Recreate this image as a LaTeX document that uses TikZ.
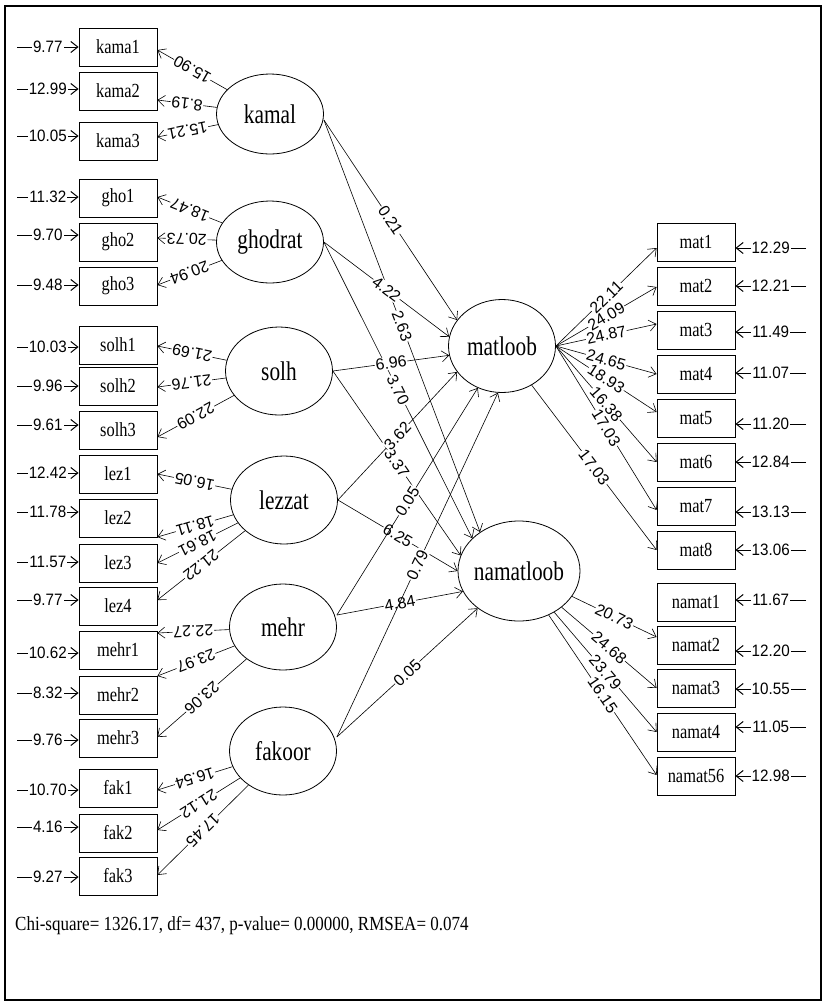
\documentclass[tikz,border=0pt]{standalone}
\usepackage{fontspec}
\setmainfont{Liberation Serif}
\newfontfamily\boxfont[FakeStretch=0.82]{Liberation Serif}
\newfontfamily\latfont[FakeStretch=0.79]{Liberation Serif}
\newfontfamily\numfont{Liberation Sans}
\newfontfamily\errfont[FakeStretch=0.92]{Liberation Sans}
\newfontfamily\chifont[FakeStretch=0.85]{Liberation Serif}
\usetikzlibrary{shapes.geometric,arrows.meta}
\begin{document}
\begin{tikzpicture}[x=1pt,y=-1pt,
  ind/.style={draw, line width=0.8pt, minimum width=78pt, minimum height=38pt, inner sep=0pt, font=\boxfont\fontsize{20}{22}\selectfont},
  lat/.style={draw, ellipse, line width=0.8pt, inner sep=0pt, label={[font=\latfont\fontsize{27}{29}\selectfont]center:#1}},
  conn/.style={line width=0.6pt, -{Straight Barb[length=7pt,width=11pt]}},
  errc/.style={line width=1pt, -{Straight Barb[length=7pt,width=11pt]}},
  lab/.style={fill=white, inner sep=0.8pt, sloped, allow upside down, pos=0.5, font=\numfont\fontsize{16}{16}\selectfont},
  elab/.style={fill=white, inner sep=1pt, midway, font=\errfont\fontsize{16.5}{16.5}\selectfont},
]
\useasboundingbox (0,0) rectangle (824,1005);
\draw[line width=1.2pt] (5,6) rectangle (821,1000);

% left indicators
\foreach \n/\t/\y in {kama1/kama1/47, kama2/kama2/91, kama3/kama3/141,
  gho1/gho1/198, gho2/gho2/242, gho3/gho3/286,
  solh1/solh1/345, solh2/solh2/386, solh3/solh3/430,
  lez1/lez1/474, lez2/lez2/518, lez3/lez3/563, lez4/lez4/606,
  mehr1/mehr1/650, mehr2/mehr2/695, mehr3/mehr3/738,
  fak1/fak1/788, fak2/fak2/833, fak3/fak3/876}
  \node[ind] (\n) at (118,\y) {\t};

% right indicators
\foreach \n/\y in {mat1/242, mat2/286, mat3/330, mat4/374, mat5/418, mat6/462, mat7/506, mat8/550,
  namat1/602, namat2/645, namat3/688, namat4/732, namat56/776}
  \node[ind] (\n) at (696,\y) {\n};

% latents
\node[lat=kamal, minimum width=107pt, minimum height=80pt] (kamal) at (270,114) {};
\node[lat=ghodrat, minimum width=107pt, minimum height=82pt] (ghodrat) at (270,242) {};
\node[lat=solh, minimum width=107pt, minimum height=88pt] (solh) at (279,371) {};
\node[lat=lezzat, minimum width=107pt, minimum height=88pt] (lezzat) at (284,500) {};
\node[lat=mehr, minimum width=107pt, minimum height=86pt] (mehr) at (283,627) {};
\node[lat=fakoor, minimum width=107pt, minimum height=88pt] (fakoor) at (283,751) {};
\node[lat=matloob, minimum width=107pt, minimum height=93pt] (matloob) at (502,346) {};
\node[lat=namatloob, minimum width=122pt, minimum height=100pt] (namatloob) at (519,571) {};

% left loadings
\foreach \l/\b/\s/\v in {kamal/kama1/-3/15.90, kamal/kama2/-9/8.19, kamal/kama3/4/15.21,
  ghodrat/gho1/1/18.47, ghodrat/gho2/4/20.73, ghodrat/gho3/1/20.94,
  solh/solh1/-1/21.69, solh/solh2/-1/21.76, solh/solh3/-7/22.09,
  lezzat/lez1/0/16.05, lezzat/lez2/-19/18.11, lezzat/lez3/0/18.61, lezzat/lez4/6/21.22,
  mehr/mehr1/17/22.27, mehr/mehr2/19/23.97, mehr/mehr3/1/23.06,
  fakoor/fak1/-2/16.54, fakoor/fak2/3/21.12, fakoor/fak3/1/17.45}
  \draw[conn] (\l) -- ([yshift=\s pt]\b.east) node[lab] {\v};

% left errors
\foreach \b/\y/\v in {kama1/47/9.77, kama2/89/12.99, kama3/136/10.05,
  gho1/197/11.32, gho2/235/9.70, gho3/285/9.48,
  solh1/347/10.03, solh2/386/9.96, solh3/425/9.61,
  lez1/473/12.42, lez2/512/11.78, lez3/562/11.57, lez4/600/9.77,
  mehr1/653/10.62, mehr2/693/8.32, mehr3/740/9.76,
  fak1/790/10.70, fak2/827/4.16, fak3/877/9.27}
{
  \coordinate (e\b) at (17,\y);
  \draw[errc] (e\b) -- (e\b -| \b.west) node[elab] {\v};
}

% right errors
\foreach \b/\y/\v in {mat1/248/12.29, mat2/286/12.21, mat3/332/11.49, mat4/373/11.07,
  mat5/424/11.20, mat6/462/12.84, mat7/512/13.13, mat8/550/13.06,
  namat1/600/11.67, namat2/651/12.20, namat3/689/10.55, namat4/727/11.05, namat56/776/12.98}
{
  \coordinate (e\b) at (806,\y);
  \draw[errc] (e\b) -- (e\b -| \b.east) node[elab] {\v};
}

% matloob loadings
\foreach \b/\s/\v in {mat1/-6/22.11, mat2/-1/24.09, mat3/6/24.87, mat4/0/24.65,
  mat5/6/18.93, mat6/0/16.38, mat7/-4/17.03}
  \draw[conn] (matloob.east) -- ([yshift=\s pt]\b.west) node[lab] {\v};
\draw[conn] (matloob) -- (mat8.west) node[lab] {17.03};

% namatloob loadings
\foreach \b/\s/\v in {namat2/8/20.73, namat3/0/24.68, namat4/0/23.79, namat56/1/16.15}
  \draw[conn] (namatloob) -- ([yshift=\s pt]\b.west) node[lab] {\v};

% structural paths
\draw[conn] ([yshift=-6pt]kamal.east) -- (matloob.150) node[lab] {0.21};
\draw[conn] ([yshift=-6pt]kamal.east) -- (namatloob.135) node[lab] {2.63};
\draw[conn] (ghodrat.east) -- (matloob.170) node[lab] {4.22};
\draw[conn] (ghodrat.east) -- (namatloob.145) node[lab] {3.70};
\draw[conn] (solh.east) -- (matloob.190) node[lab] {6.96};
\draw[conn] (solh.east) -- (namatloob.165) node[lab] {3.37};
\draw[conn] (lezzat.east) -- (matloob.210) node[lab] {3.62};
\draw[conn] (lezzat.east) -- (namatloob.180) node[lab] {6.25};
\draw[conn] ([yshift=12pt]mehr.east) -- (matloob.240) node[lab] {0.05};
\draw[conn] ([yshift=12pt]mehr.east) -- (namatloob.200) node[lab] {4.84};
\draw[conn] ([yshift=14pt]fakoor.east) -- (matloob.265) node[lab] {0.79};
\draw[conn] ([yshift=14pt]fakoor.east) -- (namatloob.222) node[lab] {0.05};

\node[anchor=base west, inner sep=0pt, font=\chifont\fontsize{20}{22}\selectfont] (chi) at (15,930)
  {Chi-square= 1326.17, df= 437, p-value= 0.00000, RMSEA= 0.074};
\end{tikzpicture}
\end{document}
